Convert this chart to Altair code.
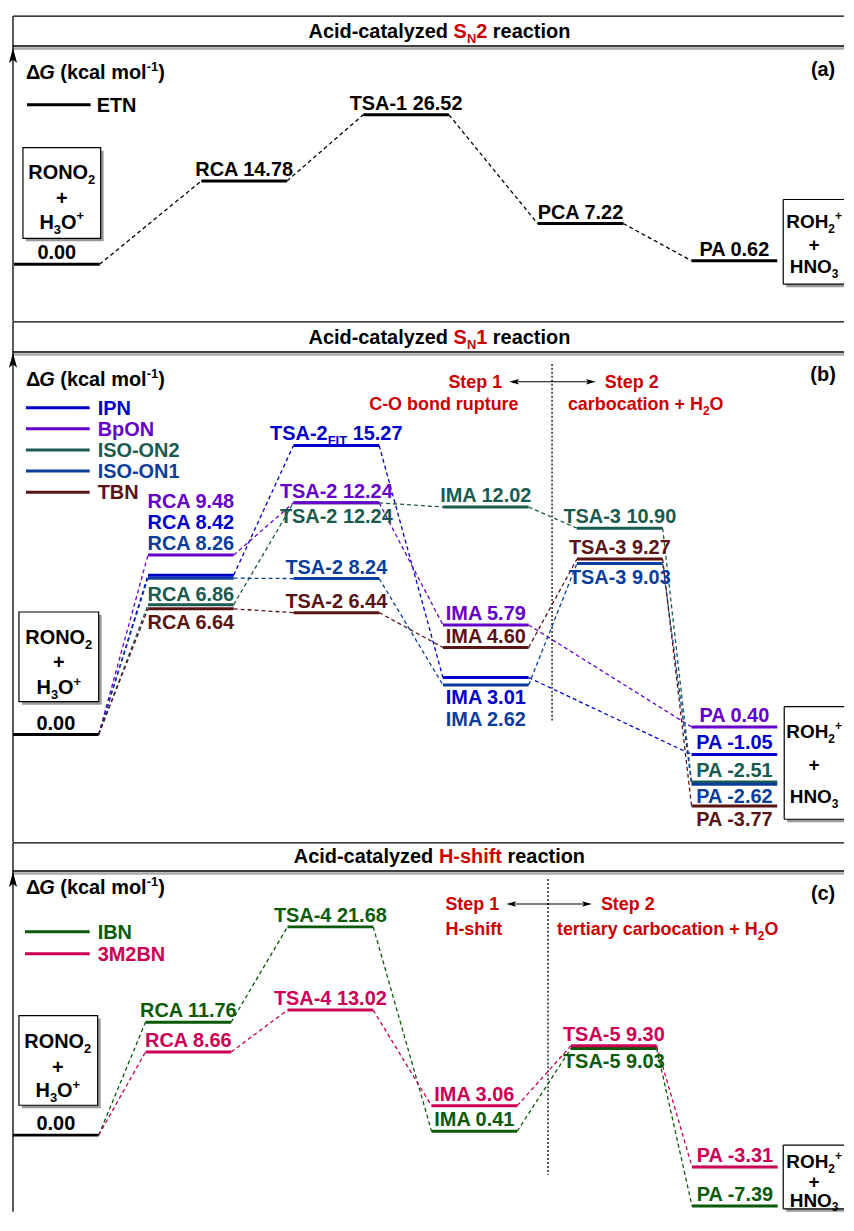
import altair as alt
import pandas as pd

# ---------------- data ----------------
A_STAGES = ["R", "RCA", "TSA-1", "PCA", "PA"]
A_SERIES = ["ETN"]
A_ETN = [0.00, 14.78, 26.52, 7.22, 0.62]

B_STAGES = ["R", "RCA", "TSA-2", "IMA", "TSA-3", "PA"]
B_SERIES = ["IPN", "BpON", "ISO-ON2", "ISO-ON1", "TBN"]
B_IPN = [0.00, 8.42, 15.27, 3.01, None, -1.05]
B_BPON = [0.00, 9.48, 12.24, 5.79, None, 0.40]
B_ISOON2 = [0.00, 6.86, 12.24, 12.02, 10.90, -2.51]
B_ISOON1 = [0.00, 8.26, 8.24, 2.62, 9.03, -2.62]
B_TBN = [0.00, 6.64, 6.44, 4.60, 9.27, -3.77]

C_STAGES = ["R", "RCA", "TSA-4", "IMA", "TSA-5", "PA"]
C_SERIES = ["IBN", "3M2BN"]
C_IBN = [0.00, 11.76, 21.68, 0.41, 9.03, -7.39]
C_3M2BN = [0.00, 8.66, 13.02, 3.06, 9.30, -3.31]

# ---------------- style ----------------
A_COLORS = ["#000000"]
B_COLORS = ["#0000cc", "#6600cc", "#1a5a50", "#0b3d9c", "#5a1414"]
C_COLORS = ["#0a5a0a", "#cc0055"]
RED = "#cc0000"
FONT = "Liberation Sans"
W = 838
HA, HB, HC = 312, 523, 371
HALF = 43

AW = {' ': 278, '(': 333, ')': 333, '+': 584, '-': 333, '.': 278,
      'A': 722, 'B': 722, 'C': 722, 'D': 722, 'E': 667, 'F': 611, 'G': 778, 'H': 722,
      'I': 278, 'K': 722, 'L': 611, 'M': 833, 'N': 722, 'O': 778, 'P': 667, 'R': 722,
      'S': 667, 'T': 611, 'a': 556, 'b': 611, 'c': 556, 'd': 611, 'e': 556, 'f': 333,
      'h': 611, 'i': 278, 'k': 556, 'l': 278, 'm': 889, 'n': 611, 'o': 611, 'p': 611,
      'r': 389, 's': 556, 't': 333, 'u': 611, 'y': 556, 'z': 500, '\u0394': 667}


def tw(s, size):
    return sum(AW.get(ch, 556) for ch in s) * size / 1000.0


DUMMY = pd.DataFrame({"d": [0]})

UP = "M0,-1L0.55,1L0,0.55L-0.55,1Z"
RIGHT = "M1,0L-1,-0.55L-0.55,0L-1,0.55Z"
LEFT = "M-1,0L1,-0.55L0.55,0L1,0.55Z"


def txt(x, y, t, color="black", size=20, italic=False, align="left"):
    return alt.Chart(DUMMY).mark_text(
        text=t, align=align, baseline="alphabetic", font=FONT, fontSize=size,
        fontWeight="bold", fontStyle="italic" if italic else "normal", color=color
    ).encode(x=alt.value(x), y=alt.value(y))


def rich(pieces, x, cy, size=20, align="center", color="black"):
    small = round(size * 0.65)
    items = []
    total = 0.0
    for p in pieces:
        text, kind = p[0], p[1]
        col = p[2] if len(p) > 2 else color
        fs = small if kind in ("sub", "sup") else size
        w = tw(text, fs)
        items.append((text, kind, col, fs, w))
        total += w
    if align == "center":
        cur = x - total / 2
    elif align == "right":
        cur = x - total
    else:
        cur = x
    base = cy + 0.36 * size
    out = []
    for text, kind, col, fs, w in items:
        lead = len(text) - len(text.lstrip(" "))
        t = text.strip(" ")
        if t:
            px = cur + tw(" " * lead, fs)
            off = 0.25 * size if kind == "sub" else (-0.42 * size if kind == "sup" else 0)
            out.append(txt(px, base + off, t, col, fs, italic=(kind == "it")))
        cur += w
    return out


def hline(x1, x2, y, color="black", width=1.3, dash=None):
    kw = dict(color=color, strokeWidth=width, strokeCap="butt")
    if dash:
        kw["strokeDash"] = dash
    return alt.Chart(DUMMY).mark_rule(**kw).encode(
        x=alt.value(x1), x2=alt.value(x2), y=alt.value(y))


def vline(x, y1, y2, color="black", width=1.3, dash=None):
    kw = dict(color=color, strokeWidth=width, strokeCap="butt")
    if dash:
        kw["strokeDash"] = dash
    return alt.Chart(DUMMY).mark_rule(**kw).encode(
        x=alt.value(x), y=alt.value(y1), y2=alt.value(y2))


def rect(x1, x2, y1, y2, fill, stroke=None):
    kw = dict(fill=fill, opacity=1)
    if stroke:
        kw.update(stroke=stroke, strokeWidth=1.2)
    else:
        kw.update(strokeWidth=0)
    return alt.Chart(DUMMY).mark_rect(**kw).encode(
        x=alt.value(x1), x2=alt.value(x2), y=alt.value(y1), y2=alt.value(y2))


def head(x, y, shape, size):
    return alt.Chart(DUMMY).mark_point(
        shape=shape, size=size, filled=True, color="black", opacity=1, strokeWidth=0
    ).encode(x=alt.value(x), y=alt.value(y))


R_LINES = [[("RONO", "n"), ("2", "sub")], [("+", "n")],
           [("H", "n"), ("3", "sub"), ("O", "n"), ("+", "sup")]]
P_LINES = [[("ROH", "n"), ("2", "sub"), ("+", "sup")], [("+", "n")],
           [("HNO", "n"), ("3", "sub")]]


def left_box(x1, x2, y1, y2, cx, ys):
    out = [rect(x1 + 3, x2 + 3, y1 + 3, y2 + 3, "#999999"),
           rect(x1, x2, y1, y2, "white", "black")]
    for pieces, y in zip(R_LINES, ys):
        out += rich(pieces, cx, y)
    return out


def right_box(x1, y1, y2, cx, ys):
    out = [rect(x1 + 3, W, y1 + 3, y2 + 3, "#999999"),
           rect(x1, W, y1, y2, "white"),
           hline(x1, W, y1, width=1.2), hline(x1, W, y2, width=1.2),
           vline(x1, y1, y2, width=1.2)]
    for pieces, y in zip(P_LINES, ys):
        out += rich(pieces, cx, y, size=19)
    return out


def header(top_y, bot_y, H, pieces, title_cy, tip_y, tag, tag_cy, dg_cy):
    out = [hline(4, W, top_y, width=1.3),
           hline(4, W, bot_y + 2.5, color="#aaaaaa", width=2.5),
           hline(4, W, bot_y, width=1.5),
           vline(4, top_y, H, width=1.3),
           head(4, tip_y + 7.5, UP, 225)]
    out += rich(pieces, 432, title_cy)
    out += rich([(tag, "n")], 817, tag_cy)
    out += rich([("\u0394", "n"), ("G", "it"), (" (kcal mol", "n"), ("-1", "sup"), (")", "n")],
                17, dg_cy, align="left")
    return out


def legend(names, colors, y0, step, lx1, lx2, tx):
    out = []
    for i, (n, c) in enumerate(zip(names, colors)):
        y = y0 + i * step
        out.append(hline(lx1, lx2, y, color=c, width=3))
        out += rich([(n, "n", c)], tx, y, align="left")
    return out


def steps(y1, yline2, end1, a1, a2, start2, l2a, l2b):
    out = rich([("Step 1", "n", RED)], end1, y1, size=18, align="right")
    out += rich([("Step 2", "n", RED)], start2, y1, size=18, align="left")
    out.append(hline(a1 + 4, a2 - 4, y1, width=1.1))
    out.append(head(a1 + 5, y1, LEFT, 100))
    out.append(head(a2 - 5, y1, RIGHT, 100))
    out += rich(l2a[0], l2a[1], yline2, size=18)
    out += rich(l2b[0], l2b[1], yline2, size=18)
    return out


def energy(names, vals, stages, colors, xr, H, zero_px, ppu, label_dy, order, special=None):
    ys = alt.Scale(domain=[(zero_px - H) / ppu, zero_px / ppu], nice=False, zero=False)
    xs = alt.Scale(domain=list(range(len(stages))), range=xr, nice=False, zero=False)
    cs = alt.Scale(domain=["ref"] + names, range=["#000000"] + colors)
    col = alt.Color("series:N", scale=cs, legend=None)
    lev = [dict(series="ref", s=0, s2=0, E=0.0, label="0.00", ly=5.0 / ppu)]
    for name in order:
        v = vals[name]
        for i in range(1, len(v)):
            if v[i] is None:
                continue
            dy = label_dy.get((name, i), -5)
            lab = "" if special and (name, i) == special[0] else f"{stages[i]} {v[i]:.2f}"
            lev.append(dict(series=name, s=i, s2=i, E=v[i], label=lab, ly=v[i] - dy / ppu))
    con = []
    for name in names:
        pts = [(i, e) for i, e in enumerate(vals[name]) if e is not None]
        for (i1, e1), (i2, e2) in zip(pts[:-1], pts[1:]):
            con.append(dict(series=name, s1=i1, E1=e1, s2=i2, E2=e2))
    lev_df = pd.DataFrame(lev)
    con_df = pd.DataFrame(con)
    out = []
    out.append(alt.Chart(con_df).mark_rule(
        strokeWidth=1.3, strokeDash=[4, 3], xOffset=HALF, x2Offset=-HALF
    ).encode(
        x=alt.X("s1:Q", scale=xs, axis=None), x2="s2:Q",
        y=alt.Y("E1:Q", scale=ys, axis=None), y2="E2:Q", color=col))
    out.append(alt.Chart(lev_df).mark_rule(
        strokeWidth=3, strokeCap="butt", xOffset=-HALF, x2Offset=HALF
    ).encode(
        x=alt.X("s:Q", scale=xs, axis=None), x2="s2:Q",
        y=alt.Y("E:Q", scale=ys, axis=None), color=col))
    lab_df = lev_df[lev_df["label"] != ""]
    out.append(alt.Chart(lab_df).mark_text(
        align="center", baseline="alphabetic", font=FONT, fontSize=20, fontWeight="bold"
    ).encode(
        x=alt.X("s:Q", scale=xs, axis=None), y=alt.Y("ly:Q", scale=ys, axis=None),
        text="label:N", color=col))
    if special:
        (name, i), pieces = special
        e = vals[name][i]
        sdf = pd.DataFrame([dict(series=name, s=i, ly=e + 5.0 / ppu)])
        widths = [tw(t, 13 if k == "sub" else 20) for t, k in pieces]
        cur = -sum(widths) / 2
        for (t, k), w in zip(pieces, widths):
            lead = len(t) - len(t.lstrip(" "))
            fs = 13 if k == "sub" else 20
            out.append(alt.Chart(sdf).mark_text(
                text=t.strip(), align="left", baseline="alphabetic", font=FONT,
                fontSize=fs, fontWeight="bold", dx=cur + tw(" " * lead, fs),
                dy=5 if k == "sub" else 0
            ).encode(x=alt.X("s:Q", scale=xs, axis=None),
                     y=alt.Y("ly:Q", scale=ys, axis=None), color=col))
            cur += w
    return out


# ---------------- panel (a) ----------------
la = []
la += header(6, 36, HA, [("Acid-catalyzed ", "n"), ("S", "n", RED), ("N", "sub", RED),
                         ("2", "n", RED), (" reaction", "n")], 21, 38, "(a)", 59, 62)
la += legend(A_SERIES, A_COLORS, 95, 20, 18, 82, 88)
la += left_box(14, 92, 138, 229, 53, [162, 188, 212])
la += right_box(777, 190, 275, 808, [212, 235, 257])
la += energy(A_SERIES, {"ETN": A_ETN}, A_STAGES, A_COLORS,
             [48, 236, 398.5, 573.5, 728], HA, 255, 5.656, {}, A_SERIES)
panel_a = alt.layer(*la).properties(width=W, height=HA)

# ---------------- panel (b) ----------------
B_LABEL_DY = {("BpON", 1): -47, ("IPN", 1): -46, ("ISO-ON1", 1): -28, ("ISO-ON2", 1): -4,
              ("TBN", 1): 20, ("ISO-ON2", 2): 20, ("IPN", 3): 27, ("ISO-ON1", 3): 41,
              ("TBN", 3): -4, ("ISO-ON1", 4): 20, ("ISO-ON1", 5): 19, ("TBN", 5): 20}
lb = []
lb += header(0.75, 31, HB, [("Acid-catalyzed ", "n"), ("S", "n", RED), ("N", "sub", RED),
                            ("1", "n", RED), (" reaction", "n")], 16, 32, "(b)", 53, 58)
lb.append(vline(545, 43, 402, width=1.3, dash=[2, 2]))
lb += steps(61, 83, 495, 502, 589, 598,
            ([("C-O bond rupture", "n", RED)], 436.5),
            ([("carbocation + H", "n", RED), ("2", "sub", RED), ("O", "n", RED)], 639))
lb += legend(B_SERIES, B_COLORS, 87, 21.2, 17, 81, 89)
lb += left_box(10, 90, 292, 382, 50, [317, 342, 367])
lb += right_box(778, 387, 500, 808, [412, 445, 477])
lb += energy(B_SERIES,
             {"IPN": B_IPN, "BpON": B_BPON, "ISO-ON2": B_ISOON2, "ISO-ON1": B_ISOON1, "TBN": B_TBN},
             B_STAGES, B_COLORS, [47, 182.5, 328.5, 478.5, 613, 728], HB, 415, 19.0,
             B_LABEL_DY, ["ISO-ON2", "ISO-ON1", "TBN", "IPN", "BpON"],
             special=(("IPN", 2), [("TSA-2", "n"), ("FIT", "sub"), (" 15.27", "n")]))
panel_b = alt.layer(*lb).properties(width=W, height=HB)

# ---------------- panel (c) ----------------
C_LABEL_DY = {("IBN", 4): 20}
lc = []
lc += header(0.75, 29, HC, [("Acid-catalyzed ", "n"), ("H-shift", "n", RED), (" reaction", "n")],
             14, 30, "(c)", 51, 45)
lc.append(vline(541, 37, 334, width=1.3, dash=[2, 2]))
lc += steps(62, 87, 492, 499, 585, 594,
            ([("H-shift", "n", RED)], 466.5),
            ([("tertiary carbocation + H", "n", RED), ("2", "sub", RED), ("O", "n", RED)], 661))
lc += legend(C_SERIES, C_COLORS, 90, 22, 16, 81, 89)
lc += left_box(10, 89, 174, 264, 49, [199, 225, 249])
lc += right_box(777, 304, 368, 808, [320, 340, 359])
lc += energy(C_SERIES, {"IBN": C_IBN, "3M2BN": C_3M2BN}, C_STAGES, C_COLORS,
             [47, 180, 322.5, 467, 607, 728.5], HC, 294, 9.64, C_LABEL_DY, ["IBN", "3M2BN"])
panel_c = alt.layer(*lc).properties(width=W, height=HC)

chart = alt.vconcat(panel_a, panel_b, panel_c, spacing=0, bounds="flush", padding=0).resolve_scale(
    x="independent", y="independent", color="independent"
).configure_view(strokeWidth=0)

chart.save("out.html", embed_options={"renderer": "svg", "actions": False})
